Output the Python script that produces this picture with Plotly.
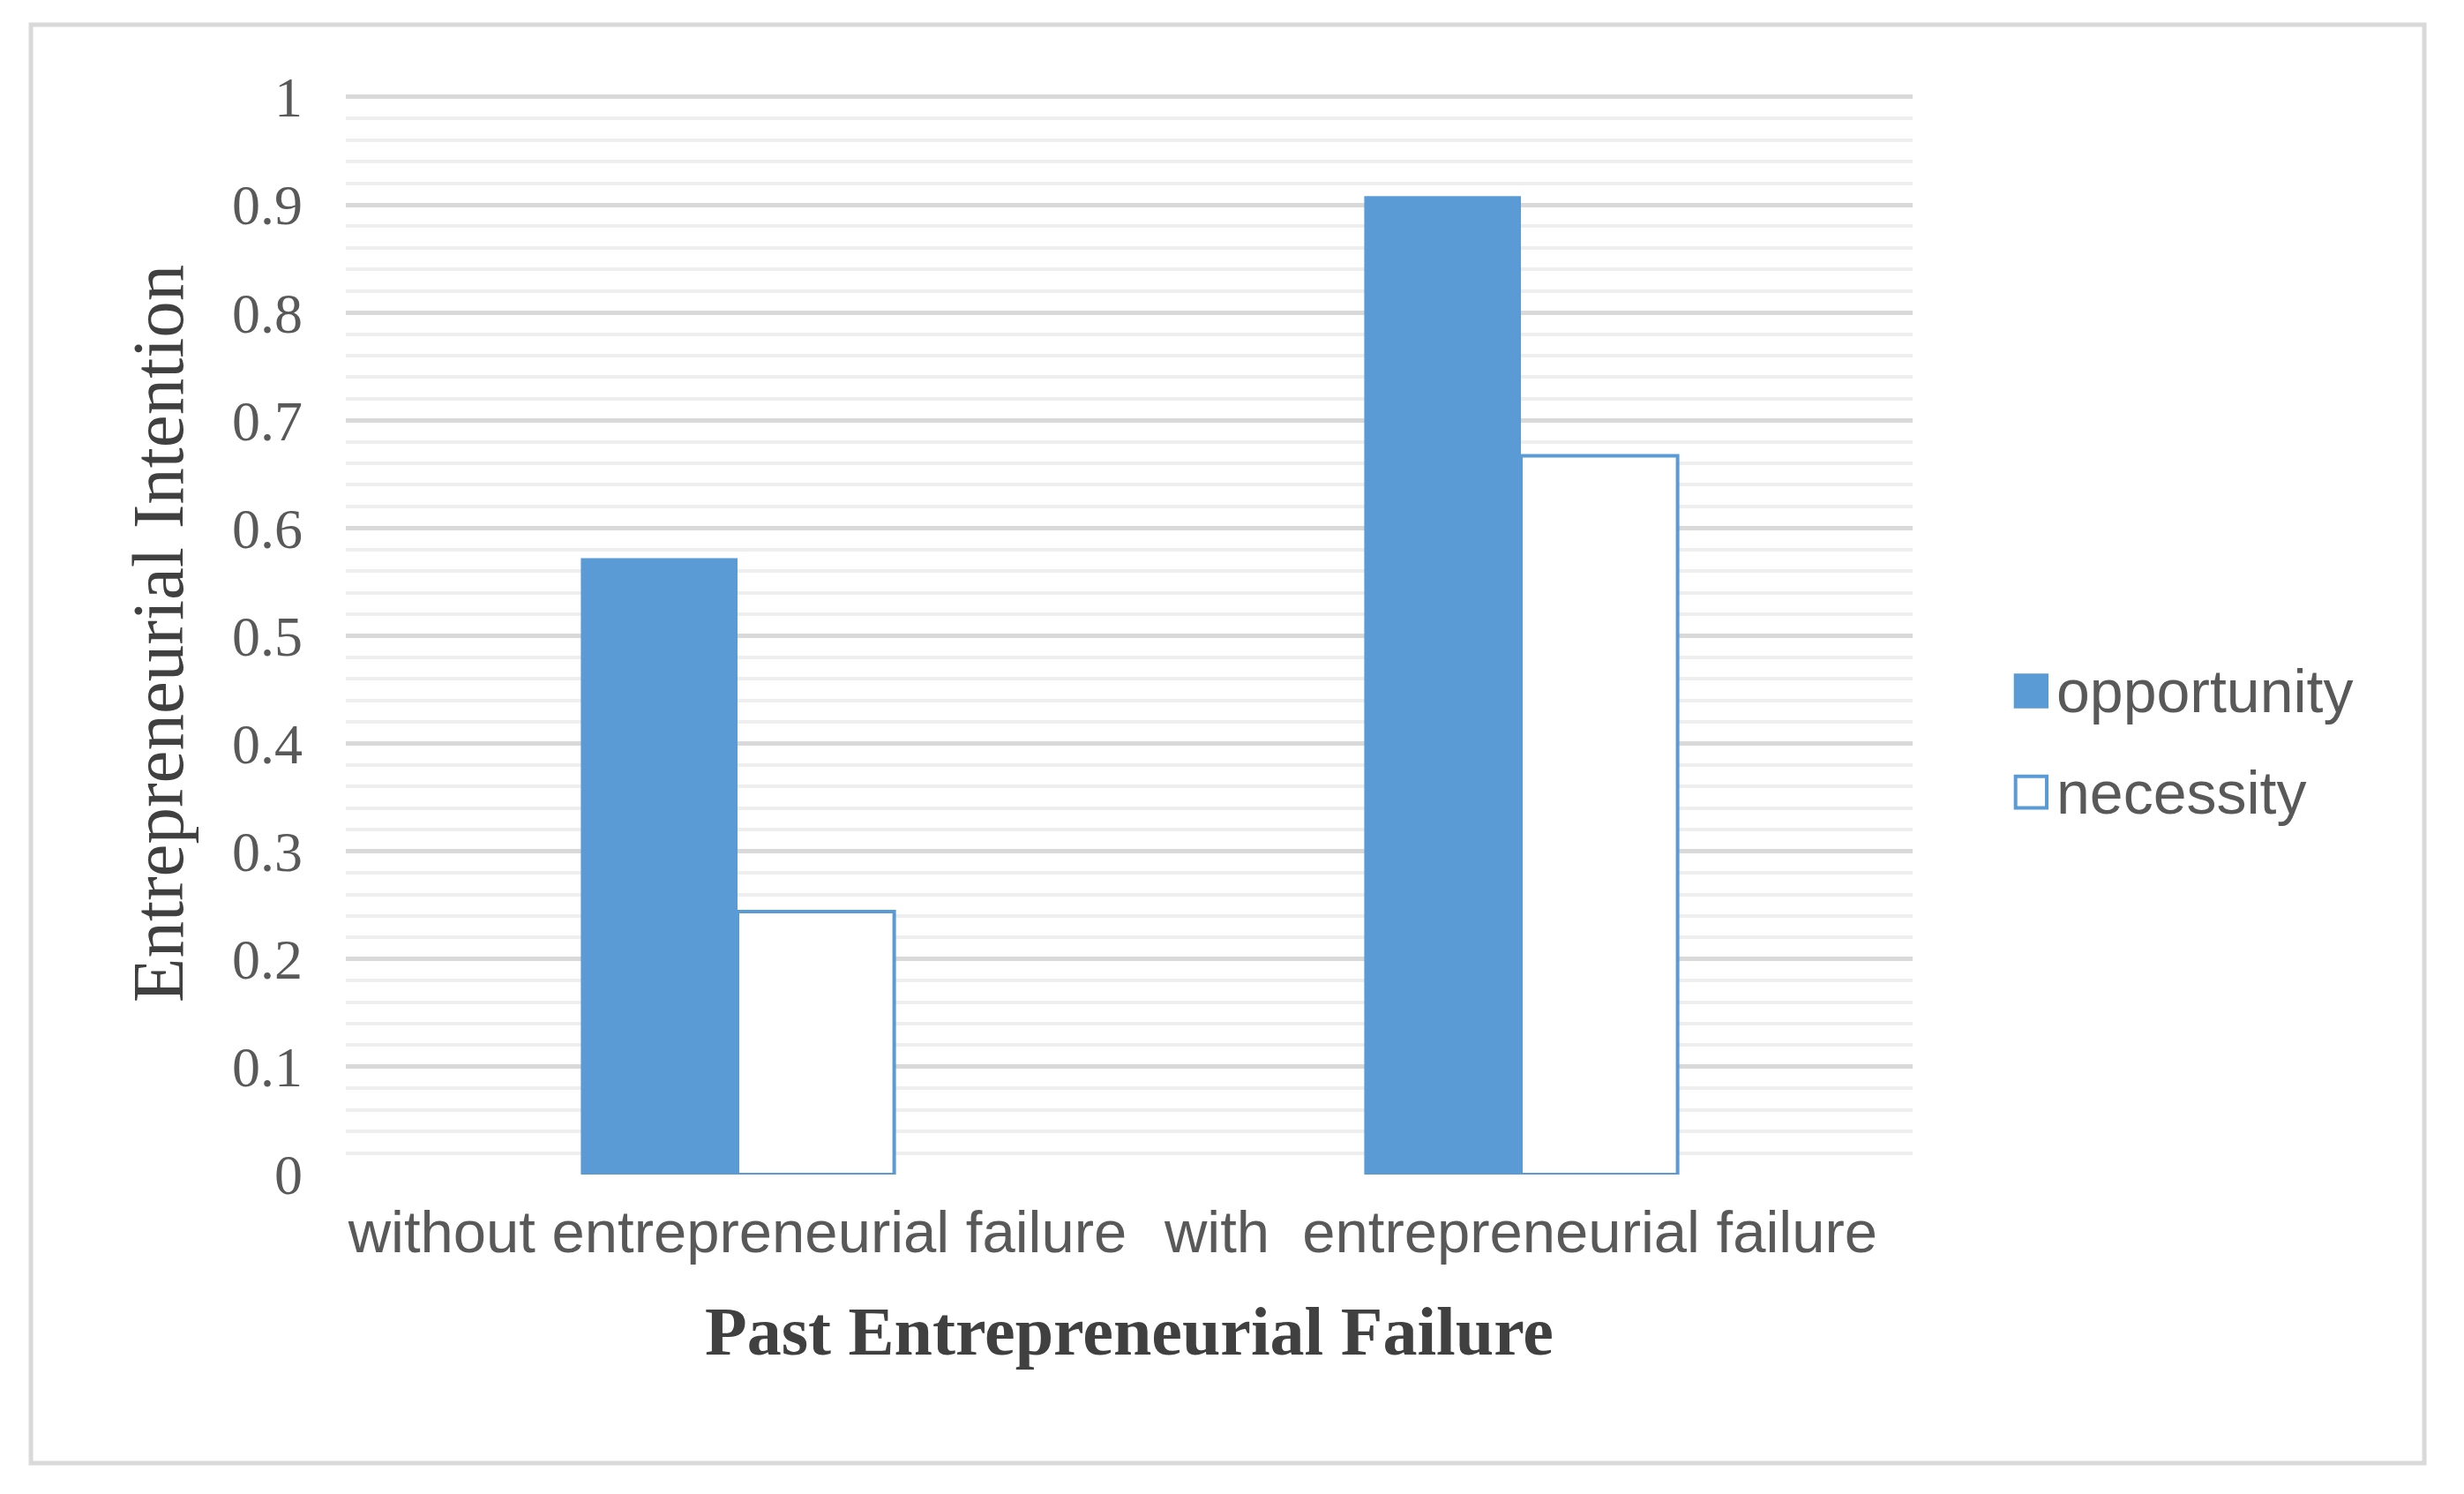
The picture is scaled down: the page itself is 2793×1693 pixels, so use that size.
import plotly.graph_objects as go

# data
categories = ["without entrepreneurial failure", "with\u00a0 entrepreneurial failure"]
series_names = ["opportunity", "necessity"]
opportunity = [0.572, 0.908]
necessity = [0.244, 0.667]
y_ticks = [0, 0.1, 0.2, 0.3, 0.4, 0.5, 0.6, 0.7, 0.8, 0.9, 1]
y_tick_labels = ["0", "0.1", "0.2", "0.3", "0.4", "0.5", "0.6", "0.7", "0.8", "0.9", "1"]

BLUE = "#5b9bd5"
GRID = "#d9d9d9"
TEXT = "#595959"

fig = go.Figure()
fig.add_trace(go.Bar(
    name=series_names[0], x=categories, y=opportunity,
    marker=dict(color=BLUE, line=dict(width=0)), showlegend=False
))
fig.add_trace(go.Bar(
    name=series_names[1], x=categories, y=necessity,
    marker=dict(color="white", line=dict(color=BLUE, width=4)), showlegend=False
))

# page body has an 8px margin, so the figure is a bit smaller than the window
fig.update_layout(
    width=2777, height=1677,
    margin=dict(l=384, r=617, t=97, b=354),
    paper_bgcolor="white", plot_bgcolor="white",
    bargap=0.6, bargroupgap=0,
    xaxis=dict(
        showgrid=False, showline=False, ticks="", tickangle=0, automargin=False,
        tickfont=dict(family="Liberation Sans", size=67, color=TEXT),
        ticklabelstandoff=20,
        title=dict(text="Past Entrepreneurial Failure", standoff=48,
                   font=dict(family="Liberation Serif", size=78, color="#404040", weight="bold")),
    ),
    yaxis=dict(
        range=[0, 1.004], tickmode="array", tickvals=y_ticks, ticktext=y_tick_labels,
        showgrid=True, gridcolor=GRID, gridwidth=5, automargin=False,
        zeroline=False, showline=False, ticks="",
        minor=dict(dtick=0.02, tick0=0, showgrid=True, gridcolor="#eeeeee", gridwidth=4, ticks=""),
        tickfont=dict(family="Liberation Serif", size=64, color=TEXT),
        ticklabelstandoff=48,
        title=dict(text="Entrepreneurial Intention", standoff=27,
                   font=dict(family="Liberation Serif", size=83, color="#404040")),
    ),
)

# outer chart frame
fig.add_shape(type="rect", xref="paper", yref="paper",
              x0=-0.201, x1=1.3266, y0=-0.2667, y1=1.0628,
              line=dict(color=GRID, width=5), fillcolor="rgba(0,0,0,0)", layer="below")

# legend with large square swatches
legend_styles = [dict(fill=BLUE, line=BLUE), dict(fill="white", line=BLUE)]
legend_y = [0.4470, 0.3535]
for name, style, yc in zip(series_names, legend_styles, legend_y):
    fig.add_shape(type="rect", xref="paper", yref="paper",
                  x0=1.0657, x1=1.0856, y0=yc - 0.0145, y1=yc + 0.0145,
                  line=dict(color=style["line"], width=4), fillcolor=style["fill"])
    fig.add_annotation(xref="paper", yref="paper", x=1.0905, y=yc,
                       xanchor="left", yanchor="middle", showarrow=False, text=name,
                       font=dict(family="Liberation Sans", size=68, color=TEXT))

fig.write_html("out.html")
